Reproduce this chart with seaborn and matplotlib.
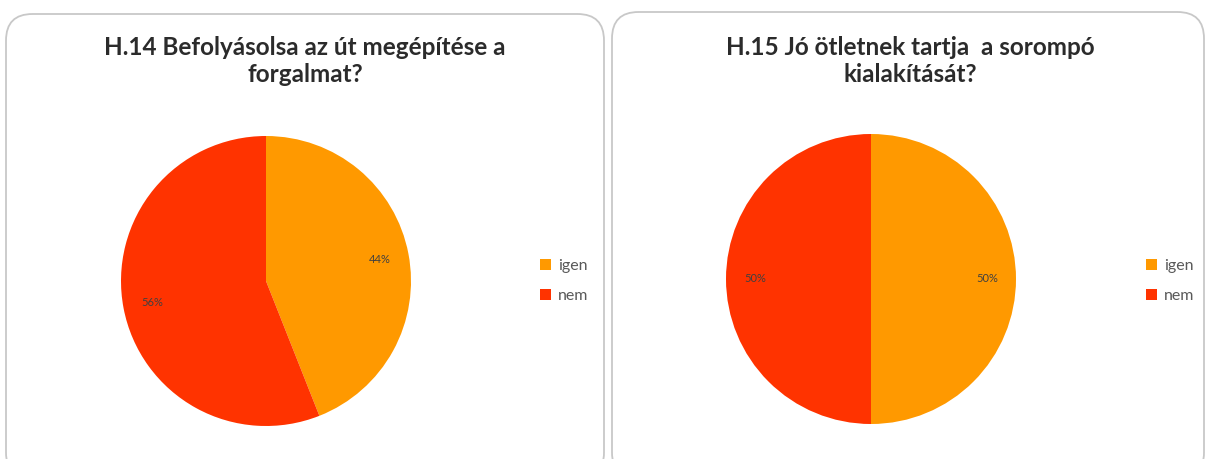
import matplotlib
matplotlib.use("Agg")
import matplotlib.pyplot as plt
from matplotlib.patches import FancyBboxPatch, Patch
import seaborn as sns

sns.set_style("white")
plt.rcParams["font.family"] = ["Lato", "DejaVu Sans"]

# data
labels = ["igen", "nem"]
h14_values = [44, 56]
h15_values = [50, 50]
titles = ["H.14 Befolyásolsa az út megépítése a\nforgalmat?",
          "H.15 Jó ötletnek tartja  a sorompó\nkialakítását?"]
colors = ["#FF9900", "#FF3300"]

W, H = 1205, 459
fig = plt.figure(figsize=(W / 100, H / 100), dpi=100)


def px_box(x0, y0, x1, y1):
    # pixel box (top-left origin) -> figure fraction rect
    return [x0 / W, 1 - y1 / H, (x1 - x0) / W, (y1 - y0) / H]


# rounded panel frames
for x0, y0, x1 in [(6, 14, 604), (612, 12, 1204)]:
    r = px_box(x0, y0, x1, H + 20)
    fig.patches.append(FancyBboxPatch((r[0], r[1]), r[2], r[3],
                                      boxstyle="round,pad=0,rounding_size=0.022",
                                      transform=fig.transFigure,
                                      facecolor="none", edgecolor="#c8c8c8",
                                      linewidth=1.3, mutation_aspect=W / H))

panels = [
    (h14_values, titles[0], (121, 136, 411, 426), 305, 536),
    (h15_values, titles[1], (726, 134, 1016, 424), 910, 1142),
]

for values, title, box, tx, lx in panels:
    ax = fig.add_axes(px_box(*box))
    wedges, texts, autotexts = ax.pie(
        values, colors=colors, startangle=90, counterclock=False,
        autopct="%1.0f%%", pctdistance=0.8, radius=1,
        wedgeprops=dict(linewidth=0, edgecolor="none"),
        textprops=dict(fontsize=8, color="#404040"))
    ax.set_xlim(-1, 1)
    ax.set_ylim(-1, 1)
    ax.set_aspect("equal")
    ax.axis("off")

    fig.text(tx / W, 1 - 61 / H, title, ha="center", va="center",
             fontsize=17.5, fontweight="bold", color="#2b2b2b",
             linespacing=1.25)

    handles = [Patch(facecolor=c, edgecolor="none", label=l)
               for c, l in zip(colors, labels)]
    fig.legend(handles=handles, loc="center left",
               bbox_to_anchor=((lx - 7) / W, 1 - 281 / H),
               frameon=False, fontsize=11.5, labelcolor="#595959",
               handlelength=0.65, handleheight=0.65, handletextpad=0.45,
               labelspacing=1.0, borderpad=0.2)

fig.savefig("out.png", dpi=100, facecolor="white")
